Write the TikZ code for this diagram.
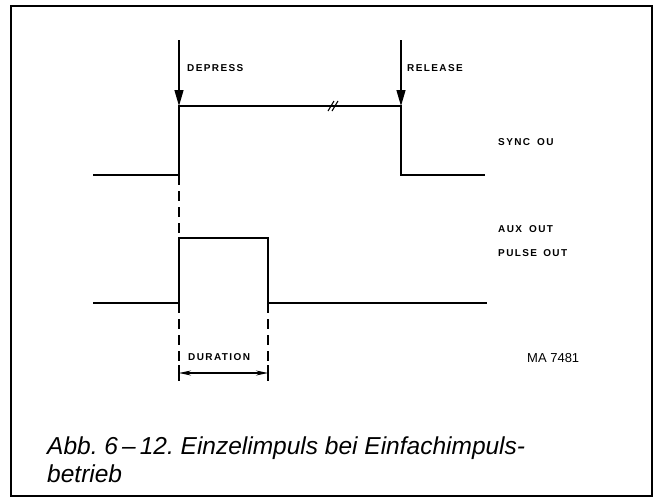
\documentclass[tikz,border=0pt]{standalone}
\usepackage{fontspec}
\setmainfont{Liberation Sans}
\newfontfamily\lblfont[LetterSpace=14]{Liberation Sans}
\newfontfamily\capfont{Liberation Sans}
\usetikzlibrary{arrows.meta}
\frenchspacing
\begin{document}
\begin{tikzpicture}[x=1pt,y=-1pt,
  sig/.style={line width=2.2pt,line join=miter},
  dashln/.style={line width=1.2pt,dash pattern=on 10pt off 6pt},
  evarrow/.style={line width=1.3pt,-{Triangle[length=16pt,width=9pt]}},
  lbl/.style={font=\lblfont\bfseries\fontsize{10}{12}\selectfont,anchor=west,inner sep=0pt},
  dimarrow/.style={line width=1.2pt,{Stealth[length=12pt,width=5pt]}-{Stealth[length=12pt,width=5pt]}},
  capt/.style={font=\capfont\itshape\fontsize{24.5}{29}\selectfont,anchor=base west,inner sep=0pt,align=left}]
\useasboundingbox (0,0) rectangle (659,498);
\draw[line width=2.2pt] (11,6) rectangle (652,496);
% SYNC signal
\coordinate (s0) at (93,175);
\coordinate (s1) at (179,175);
\coordinate (s2) at (179,106);
\coordinate (s3) at (401,106);
\coordinate (s4) at (401,175);
\coordinate (s5) at (485,175);
\draw[sig] (s0) -- (s1) -- (s2) -- (s3) -- (s4) -- (s5);
% break mark
\coordinate (b1) at (328,111);
\coordinate (b2) at (334,101);
\coordinate (b3) at (332,111);
\coordinate (b4) at (338,101);
\draw[line width=1.1pt] (b1) -- (b2);
\draw[line width=1.1pt] (b3) -- (b4);
% event arrows
\coordinate (d0) at (179,40);
\coordinate (r0) at (401,40);
\draw[evarrow] (d0) -- (s2);
\draw[evarrow] (r0) -- (s3);
\node[lbl] (dep) at (187,68) {DEPRESS};
\node[lbl] (rel) at (407,68) {RELEASE};
\node[lbl] (sync) at (498,142) {SYNC\hspace{7pt}OU};
% AUX signal
\coordinate (a0) at (93,303);
\coordinate (a1) at (179,303);
\coordinate (a2) at (179,238);
\coordinate (a3) at (268,238);
\coordinate (a4) at (268,303);
\coordinate (a5) at (487,303);
\draw[sig] (a0) -- (a1) -- (a2) -- (a3) -- (a4) -- (a5);
\node[lbl] (aux) at (498,229) {AUX\hspace{7pt}OUT};
\node[lbl] (pulse) at (498,253) {PULSE\hspace{2pt} OUT};
% dashed guides
\coordinate (g1) at (179,378);
\coordinate (g2) at (268,378);
\draw[dashln] (s1) -- (a2);
\draw[dashln] (a1) -- (g1);
\draw[dashln] (a4) -- (g2);
% duration
\coordinate (dl) at (179,373);
\coordinate (dr) at (268,373);
\draw[dimarrow] (dl) -- (dr);
\draw[line width=1.2pt] (179,365) -- (179,381) (268,365) -- (268,381);
\node[lbl] (dur) at (188,357) {DURATION};
\node[font=\fontsize{13}{15}\selectfont,anchor=west,inner sep=0pt] (ma) at (527,358) {MA 7481};
% caption
\node[capt] (cap1) at (47,454) {Abb. 6\,–\,12. Einzelimpuls bei Einfachimpuls-};
\node[capt] (cap2) at (47,482) {betrieb};
\end{tikzpicture}
\end{document}
